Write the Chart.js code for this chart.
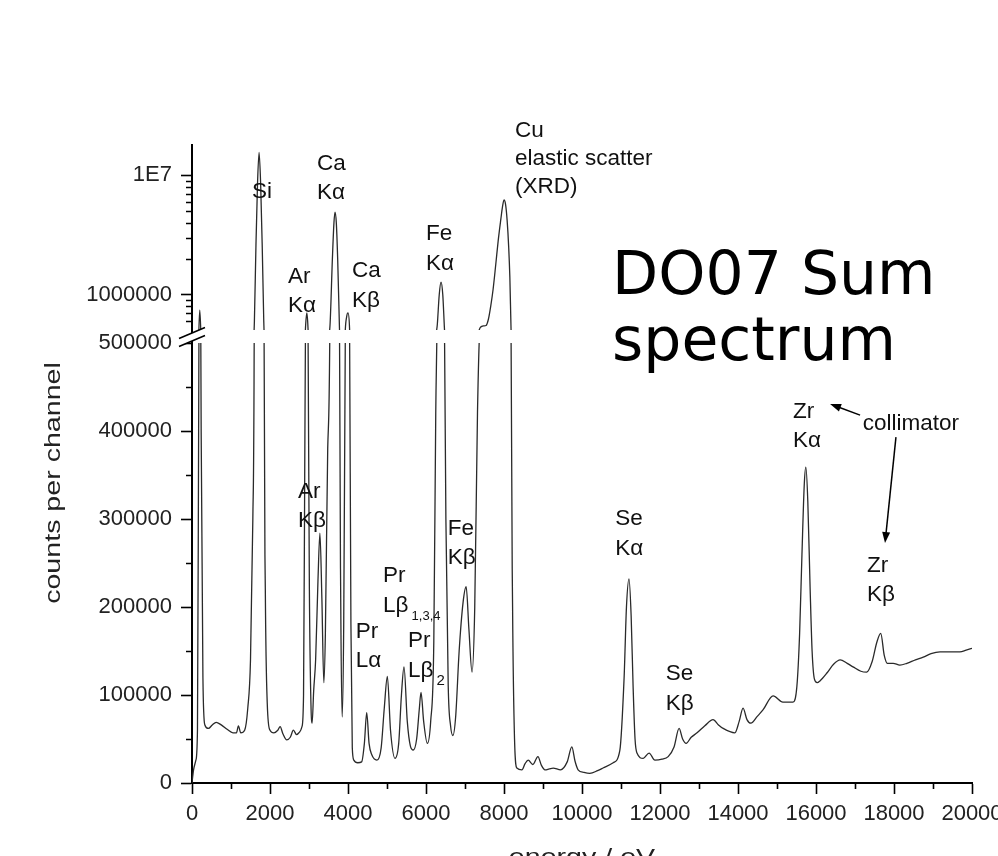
<!DOCTYPE html>
<html>
<head>
<meta charset="utf-8">
<title>DO07 Sum spectrum</title>
<script src="https://cdn.jsdelivr.net/npm/chart.js@4.4.1/dist/chart.umd.min.js"></script>
<style>
  html, body { margin: 0; padding: 0; background: #fff; overflow: hidden; }
  canvas { display: block; }
</style>
</head>
<body>
<canvas id="spectrum" width="998" height="880"></canvas>
<script>
// ── data ──────────────────────────────────────────────────────────────────
const energyEV = [
  0, 40, 100, 140, 170, 200, 235, 280, 330, 420, 520, 620, 750, 900, 1050, 1140, 1190, 1250, 1350, 1430, 1500,
  1560, 1600, 1640, 1680, 1720, 1760, 1800, 1840, 1880, 1930, 2000,
  2100, 2200, 2260, 2330, 2430, 2520, 2600, 2680, 2760, 2820, 2860,
  2890, 2915, 2945, 2975, 3010, 3050, 3080, 3120, 3170, 3230, 3280, 3330, 3380, 3420,
  3480, 3540, 3600, 3640, 3667, 3700, 3735, 3780, 3815, 3850, 3890,
  3930, 3965, 4000, 4040, 4075, 4110, 4150, 4250, 4350, 4420, 4480, 4540, 4610, 4740,
  4850, 4930, 5009, 5090, 5205, 5300, 5370, 5436, 5520, 5600, 5675, 5760, 5830, 5872, 5940, 6034, 6120,
  6200, 6250, 6290, 6340, 6385, 6430, 6470, 6510, 6570, 6630, 6690, 6760, 6850, 6950, 7030, 7100, 7180, 7250, 7320,
  7380, 7430, 7480, 7540, 7600, 7660, 7720, 7790, 7850, 7920, 7960, 8000, 8040, 8080, 8120, 8150, 8180, 8220, 8270,
  8330, 8460, 8540, 8620, 8740, 8870, 8960, 9050, 9160, 9260, 9450, 9620, 9740, 9820, 9900, 10050, 10200, 10400,
  10540, 10800, 10970, 11080, 11140, 11205, 11260, 11310, 11360, 11410, 11570, 11720, 11870, 12050, 12210, 12360,
  12490, 12580, 12670, 12800, 12950, 13150, 13360, 13500, 13620, 13920, 14030, 14130, 14230, 14330, 14500, 14640,
  14900, 15150, 15410, 15510, 15580, 15640, 15700, 15740, 15790, 15850, 15900, 15960, 16030, 16100, 16280, 16450,
  16620, 16800, 16950, 17150, 17300, 17440, 17560, 17660, 17750, 17830, 17980, 18150, 18330, 18550, 18750, 18950,
  19180, 19450, 19690, 19850, 20000
];
const countsPerChannel = [
  0, 15000, 26000, 60000, 400000, 740000, 400000, 120000, 66000, 62000, 66000, 69000, 66000, 61000, 57000, 57000, 65000, 57000, 60000, 85000, 140000,
  300000, 600000, 2600000, 8500000, 15500000, 8500000, 2600000, 600000, 220000, 90000, 60000,
  57000, 60000, 64000, 56000, 49000, 52000, 60000, 55000, 58000, 64000, 100000,
  350000, 560000, 700000, 520000, 220000, 90000, 68000, 105000, 140000, 230000, 284000, 210000, 114000, 170000,
  380000, 560000, 2000000, 4000000, 4900000, 4000000, 2000000, 540000, 200000, 75000, 180000,
  500000, 650000, 700000, 520000, 180000, 40000, 26000, 23000, 24000, 45000, 80000, 45000, 32000, 26000,
  40000, 85000, 121000, 60000, 28000, 45000, 100000, 132000, 70000, 42000, 37500, 50000, 85000, 103000, 70000, 45000, 70000,
  160000, 420000, 560000, 1000000, 1270000, 1000000, 540000, 300000, 110000, 65000, 54000, 75000, 150000, 205000, 223000, 175000, 126000, 200000, 420000,
  520000, 540000, 545000, 550000, 620000, 800000, 1100000, 1800000, 2800000, 4300000, 5400000, 6200000, 5700000, 4200000, 2500000, 1400000, 520000, 200000, 50000,
  17000, 15000, 22000, 26000, 21000, 30000, 20000, 15000, 16000, 17000, 15000, 24000, 41000, 25000, 15000, 12000, 11000, 14000,
  17000, 23000, 37000, 120000, 200000, 232000, 190000, 110000, 50000, 34000, 28000, 34000, 26000, 27000, 30000, 41000,
  62000, 50000, 45000, 52000, 57000, 65000, 72000, 66000, 62000, 57000, 70000, 85000, 72000, 68000, 76000, 83000,
  99000, 92000, 92000, 110000, 170000, 260000, 340000, 359000, 320000, 220000, 150000, 118000, 114000, 116000, 125000, 135000,
  140000, 136000, 132000, 127000, 126000, 138000, 160000, 170000, 145000, 136000, 136000, 134000, 136000, 140000, 143000, 147000,
  149000, 149000, 149000, 151000, 153000
];

const xMajorTicks = [0, 2000, 4000, 6000, 8000, 10000, 12000, 14000, 16000, 18000, 20000];
const xMinorTicks = [1000, 3000, 5000, 7000, 9000, 11000, 13000, 15000, 17000, 19000];
const linMajorTicks = [0, 100000, 200000, 300000, 400000, 500000];
const linMinorTicks = [50000, 150000, 250000, 350000, 450000];
const logMajorTicks = [1000000, 10000000];
const logMajorLabels = ["1000000", "1E7"];
const logMinorTicks = [600000, 700000, 800000, 900000, 2000000, 3000000, 4000000, 5000000,
                       6000000, 7000000, 8000000, 9000000];

(() => {
  "use strict";

  const FONT = "'Liberation Sans', Arial, sans-serif";
  const INK = "#111";
  const BREAK_GAP = 13;     // white band between the log and the linear panel
  const LINE_H = 29.5;

  // peak labels, anchored in data units (energy, counts on the given axis)
  const notes = [
    { lines: ["Si"], x: 1540, y: 6.44e6, axis: "yLog" },
    { lines: ["Ca", "Kα"], x: 3205, y: 1.107e7, axis: "yLog" },
    { lines: ["Ar", "Kα"], x: 2460, y: 1.25e6, axis: "yLog" },
    { lines: ["Ca", "Kβ"], x: 4100, y: 1.40e6, axis: "yLog" },
    { lines: ["Fe", "Kα"], x: 6000, y: 2.86e6, axis: "yLog" },
    { lines: ["Cu", "elastic scatter", "(XRD)"], x: 8280, y: 2.09e7, axis: "yLog", gap: 28 },
    { lines: ["Ar", "Kβ"], x: 2720, y: 324000, axis: "yLin" },
    { lines: ["Fe", "Kβ"], x: 6560, y: 282000, axis: "yLin" },
    { lines: ["Pr", "Lβ"], sub: "1,3,4", subSize: 13, x: 4900, y: 228000, axis: "yLin" },
    { lines: ["Pr", "Lα"], x: 4200, y: 165000, axis: "yLin" },
    { lines: ["Pr", "Lβ"], sub: "2", subSize: 15, x: 5540, y: 154500, axis: "yLin" },
    { lines: ["Se", "Kα"], x: 10850, y: 293000, axis: "yLin" },
    { lines: ["Se", "Kβ"], x: 12150, y: 117000, axis: "yLin" },
    { lines: ["Zr", "Kα"], x: 15410, y: 414800, axis: "yLin" },
    { lines: ["collimator"], x: 17200, y: 401000, axis: "yLin" },
    { lines: ["Zr", "Kβ"], x: 17310, y: 240000, axis: "yLin" },
  ];
  const arrows = [
    { from: [17130, 418000], to: [16360, 430700] },
    { from: [18050, 393000], to: [17770, 272700] },
  ];

  const ticksOf = (major, minor) =>
    major.map((v) => ({ value: v }))
      .concat(minor.map((v) => ({ value: v, minor: true })))
      .sort((a, b) => a.value - b.value);
  const tickColor = (c) => (c.tick && c.tick.minor ? "rgba(0,0,0,0)" : "#000");

  function text(ctx, str, x, y, font, o = {}) {
    ctx.save();
    ctx.font = font;
    ctx.fillStyle = o.color || INK;
    ctx.textAlign = o.align || "left";
    ctx.textBaseline = "alphabetic";
    ctx.translate(x, y);
    if (o.rotate) ctx.rotate(o.rotate);
    if (o.sx) ctx.scale(o.sx, 1);
    ctx.fillText(str, 0, 0);
    ctx.restore();
  }

  // ── overlay plugin: panel clipping, minor ticks, axis break, labels ────
  const overlay = {
    id: "overlay",
    beforeDatasetDraw(chart, args) {
      const ds = chart.data.datasets[args.index];
      const s = chart.scales[ds.yAxisID];
      const a = chart.chartArea;
      const bottom = ds.yAxisID === "yLog" ? s.bottom - BREAK_GAP : s.bottom + 2;
      const ctx = chart.ctx;
      ctx.save();
      ctx.beginPath();
      ctx.rect(a.left, s.top - 2, a.right - a.left + 2, bottom - s.top + 2);
      ctx.clip();
    },
    afterDatasetDraw(chart) {
      chart.ctx.restore();
    },
    afterDraw(chart) {
      const ctx = chart.ctx;
      const a = chart.chartArea;
      const xs = chart.scales.x;

      // minor ticks
      ctx.save();
      ctx.strokeStyle = "#000";
      ctx.lineWidth = 1.6;
      ctx.beginPath();
      xs.ticks.filter((t) => t.minor).forEach((t) => {
        const p = Math.round(xs.getPixelForValue(t.value)) + 0.5;
        ctx.moveTo(p, a.bottom); ctx.lineTo(p, a.bottom + 6);
      });
      ["yLin", "yLog"].forEach((id) => {
        const s = chart.scales[id];
        s.ticks.filter((t) => t.minor).forEach((t) => {
          const p = Math.round(s.getPixelForValue(t.value)) + 0.5;
          ctx.moveTo(a.left - 6, p); ctx.lineTo(a.left, p);
        });
      });
      ctx.stroke();

      // axis break marks
      const bx = a.left;
      const by = chart.scales.yLin.top;
      ctx.fillStyle = "#fff";
      ctx.beginPath();
      ctx.moveTo(bx - 13, by - 4.5); ctx.lineTo(bx + 13, by - 15.5);
      ctx.lineTo(bx + 13, by - 7.5); ctx.lineTo(bx - 13, by + 3.5);
      ctx.closePath();
      ctx.fill();
      ctx.lineWidth = 1.6;
      ctx.beginPath();
      ctx.moveTo(bx - 13, by - 4.5); ctx.lineTo(bx + 13, by - 15.5);
      ctx.moveTo(bx - 13, by + 3.5); ctx.lineTo(bx + 13, by - 7.5);
      ctx.stroke();
      ctx.restore();

      // peak labels
      const font = `22.5px ${FONT}`;
      notes.forEach((n) => {
        const x = xs.getPixelForValue(n.x);
        const y0 = chart.scales[n.axis].getPixelForValue(n.y);
        const gap = n.gap || LINE_H;
        n.lines.forEach((ln, i) => text(ctx, ln, x, y0 + i * gap, font));
        if (n.sub) {
          ctx.font = font;
          const last = n.lines[n.lines.length - 1];
          const w = ctx.measureText(last).width;
          text(ctx, n.sub, x + w + 3, y0 + (n.lines.length - 1) * gap + 8, `${n.subSize}px ${FONT}`);
        }
      });

      // collimator arrows
      ctx.save();
      ctx.strokeStyle = "#000";
      ctx.fillStyle = "#000";
      ctx.lineWidth = 1.5;
      arrows.forEach((ar) => {
        const x1 = xs.getPixelForValue(ar.from[0]), y1 = chart.scales.yLin.getPixelForValue(ar.from[1]);
        const x2 = xs.getPixelForValue(ar.to[0]), y2 = chart.scales.yLin.getPixelForValue(ar.to[1]);
        const ang = Math.atan2(y2 - y1, x2 - x1);
        ctx.beginPath(); ctx.moveTo(x1, y1); ctx.lineTo(x2 - 8 * Math.cos(ang), y2 - 8 * Math.sin(ang)); ctx.stroke();
        ctx.beginPath();
        ctx.moveTo(x2, y2);
        ctx.lineTo(x2 - 11 * Math.cos(ang) + 4 * Math.sin(ang), y2 - 11 * Math.sin(ang) - 4 * Math.cos(ang));
        ctx.lineTo(x2 - 11 * Math.cos(ang) - 4 * Math.sin(ang), y2 - 11 * Math.sin(ang) + 4 * Math.cos(ang));
        ctx.closePath(); ctx.fill();
      });
      ctx.restore();

      // big caption
      const cx = xs.getPixelForValue(10770);
      const cy = chart.scales.yLog.getPixelForValue(1e6);
      text(ctx, "DO07 Sum", cx, cy, "60px 'DejaVu Sans', Verdana, sans-serif", { color: "#000" });
      text(ctx, "spectrum", cx, cy + 66, "60px 'DejaVu Sans', Verdana, sans-serif", { color: "#000" });

      // axis titles
      text(ctx, "counts per channel", 60, 483, `22px ${FONT}`, { rotate: -Math.PI / 2, align: "center", sx: 1.3, color: "#222" });
      text(ctx, "energy / eV", (a.left + a.right) / 2, 864, `22px ${FONT}`, { align: "center", sx: 1.3, color: "#222" });
    },
  };

  // ── chart ─────────────────────────────────────────────────────────────
  const points = energyEV.map((e, i) => ({ x: e, y: countsPerChannel[i] }));
  const line = {
    borderColor: "#2a2a2a", borderWidth: 1.3, pointRadius: 0,
    cubicInterpolationMode: "monotone", fill: false,
  };
  const tickFont = { family: FONT, size: 22 };

  new Chart(document.getElementById("spectrum"), {
    type: "line",
    data: {
      datasets: [
        Object.assign({ data: points, yAxisID: "yLin" }, line),
        Object.assign({ data: points, yAxisID: "yLog" }, line),
      ],
    },
    options: {
      responsive: false, animation: false, events: [],
      layout: { padding: { top: 145, right: 26, left: 0, bottom: 0 } },
      plugins: { legend: { display: false }, tooltip: { enabled: false } },
      scales: {
        x: {
          type: "linear", position: "bottom", min: 0, max: 20000,
          afterBuildTicks: (s) => { s.ticks = ticksOf(xMajorTicks, xMinorTicks); },
          afterFit: (s) => { s.height = 97; s.paddingLeft = 0; s.paddingRight = 0; },
          border: { display: true, color: "#000", width: 2 },
          grid: { drawOnChartArea: false, drawTicks: true, tickLength: 11, tickWidth: 1.6, tickColor },
          ticks: {
            autoSkip: false, maxRotation: 0, padding: 7, color: "#222", font: tickFont,
            callback: (v, i, t) => (t[i].minor ? "" : String(v)),
          },
        },
        yLin: {
          type: "linear", position: "left", stack: "y", stackWeight: 440, min: 0, max: 500000,
          afterBuildTicks: (s) => { s.ticks = ticksOf(linMajorTicks, linMinorTicks); },
          afterFit: (s) => { s.width = 192; s.paddingTop = 0; s.paddingBottom = 0; },
          border: { display: true, color: "#000", width: 2 },
          grid: { drawOnChartArea: false, drawTicks: true, tickLength: 11, tickWidth: 1.6, tickColor },
          ticks: {
            autoSkip: false, padding: 9, color: "#222", font: tickFont,
            callback: (v, i, t) => (t[i].minor ? "" : String(v)),
          },
        },
        yLog: {
          type: "logarithmic", position: "left", stack: "y", stackWeight: 198, min: 392000, max: 17900000,
          afterBuildTicks: (s) => { s.ticks = ticksOf(logMajorTicks, logMinorTicks); },
          afterFit: (s) => { s.width = 192; s.paddingTop = 0; s.paddingBottom = 0; },
          border: { display: true, color: "#000", width: 2 },
          grid: { drawOnChartArea: false, drawTicks: true, tickLength: 11, tickWidth: 1.6, tickColor },
          ticks: {
            autoSkip: false, padding: 9, color: "#222", font: tickFont,
            callback: (v, i, t) => (t[i].minor ? "" : logMajorLabels[logMajorTicks.indexOf(v)]),
          },
        },
      },
    },
    plugins: [overlay],
  });
})();
</script>
</body>
</html>
